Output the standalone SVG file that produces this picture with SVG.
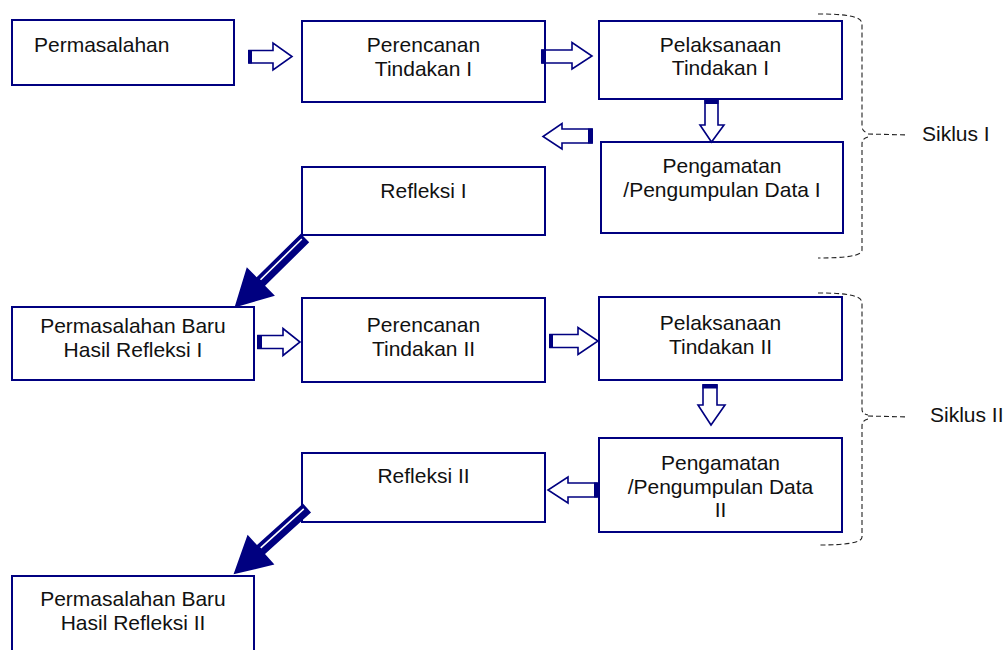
<svg xmlns="http://www.w3.org/2000/svg" width="1004" height="650" viewBox="0 0 1004 650">
<style>
.box{fill:#fff;stroke:#000080;stroke-width:2}
.t{font-family:"Liberation Sans",Arial,sans-serif;font-size:21px;fill:#111}
.c{text-anchor:middle}
.ba{fill:#fff;stroke:#000080;stroke-width:1.6;stroke-linejoin:miter}
.tail{fill:#000080}
.big{fill:#000080}
.br{fill:none;stroke:#222;stroke-width:1.1;stroke-dasharray:5,3}
</style>
<defs>
<g id="bigArrow">
<path class="big" d="M0,-6 L62,-6 L62,-20 L99,0 L62,20 L62,6 L0,6 Z"/>
<line x1="3" y1="1.5" x2="61" y2="1.5" stroke="#fff" stroke-width="1.6"/>
</g>
</defs>
<g id="n1"><rect class="box" x="12" y="20" width="222" height="65"/><text class="t" x="34" y="52">Permasalahan</text></g>
<g id="n2"><rect class="box" x="302" y="21" width="243" height="81"/><text class="t c" x="423.5" y="52">Perencanan</text><text class="t c" x="423.5" y="76">Tindakan I</text></g>
<g id="n3"><rect class="box" x="599" y="21" width="243" height="78"/><text class="t c" x="720.5" y="52">Pelaksanaan</text><text class="t c" x="720.5" y="75">Tindakan I</text></g>
<g id="n4"><rect class="box" x="601" y="142" width="242" height="91"/><text class="t c" x="722" y="173">Pengamatan</text><text class="t c" x="722" y="197">/Pengumpulan Data I</text></g>
<g id="n5"><rect class="box" x="302" y="167" width="243" height="68"/><text class="t c" x="423.5" y="198">Refleksi I</text></g>
<g id="n6"><rect class="box" x="12" y="307" width="242" height="73"/><text class="t c" x="133" y="333">Permasalahan Baru</text><text class="t c" x="133" y="357">Hasil Refleksi I</text></g>
<g id="n7"><rect class="box" x="302" y="298" width="243" height="84"/><text class="t c" x="423.5" y="332">Perencanan</text><text class="t c" x="423.5" y="356">Tindakan II</text></g>
<g id="n8"><rect class="box" x="599" y="297" width="243" height="83"/><text class="t c" x="720.5" y="330">Pelaksanaan</text><text class="t c" x="720.5" y="354">Tindakan II</text></g>
<g id="n9"><rect class="box" x="599" y="438" width="243" height="94"/><text class="t c" x="720.5" y="470">Pengamatan</text><text class="t c" x="720.5" y="494">/Pengumpulan Data</text><text class="t c" x="720.5" y="517">II</text></g>
<g id="n10"><rect class="box" x="302" y="453" width="243" height="69"/><text class="t c" x="423.5" y="483">Refleksi II</text></g>
<g id="n11"><rect class="box" x="12" y="576" width="242" height="80"/><text class="t c" x="133" y="606">Permasalahan Baru</text><text class="t c" x="133" y="630">Hasil Refleksi II</text></g>
<g id="connectors">
<path class="ba" d="M249,50.5 H273 V43 L292,56.5 L273,70 V63 H249 Z"/><rect class="tail" x="248" y="50" width="4" height="13.5"/>
<path class="ba" d="M542,50 H572 V42.5 L592,56 L572,69 V63 H542 Z"/><rect class="tail" x="541" y="49.5" width="5" height="14"/>
<path class="ba" d="M705,100 V125 H700 L711.5,142 L724,125 H718 V100 Z"/><rect class="tail" x="704.5" y="99" width="14" height="5"/>
<path class="ba" d="M592,129 H562 V123.5 L543,136.5 L562,149 V143 H592 Z"/><rect class="tail" x="588" y="128.5" width="5" height="15"/>
<use href="#bigArrow" transform="translate(305,238) rotate(135.4)"/>
<path class="ba" d="M258,335.5 H283 V328.5 L300,342 L283,355.5 V348.5 H258 Z"/><rect class="tail" x="257" y="335" width="5" height="14"/>
<path class="ba" d="M550,334.5 H578 V327.5 L598,341 L578,354.5 V347.5 H550 Z"/><rect class="tail" x="549" y="334" width="4" height="14"/>
<path class="ba" d="M703,385 V405 H698 L711,425 L725,405 H717 V385 Z"/><rect class="tail" x="702.5" y="384" width="15" height="4.5"/>
<path class="ba" d="M597,483 H568 V477 L548,490 L568,503 V497 H597 Z"/><rect class="tail" x="594" y="482.5" width="5" height="15"/>
<use href="#bigArrow" transform="translate(307,508) rotate(137.9)"/>
</g>
<g id="siklus1">
<path class="br" d="M818,14 C845,14 862,16 862,24 L862,126 C862,130 864,132 868,133 M868,134 L908,135 M868,137 C864,138 862,140 862,144 L862,250 C862,256 845,258 818,258"/>
<text class="t" x="922" y="141" font-size="19">Siklus I</text>
</g>
<g id="siklus2">
<path class="br" d="M818,293 C845,293 862,295 862,303 L862,409 C862,413 864,414 868,415 M868,416 L908,417 M868,419 C864,420 862,422 862,426 L862,537 C862,543 845,545 818,545"/>
<text class="t" x="930" y="422" font-size="19">Siklus II</text>
</g>
</svg>
